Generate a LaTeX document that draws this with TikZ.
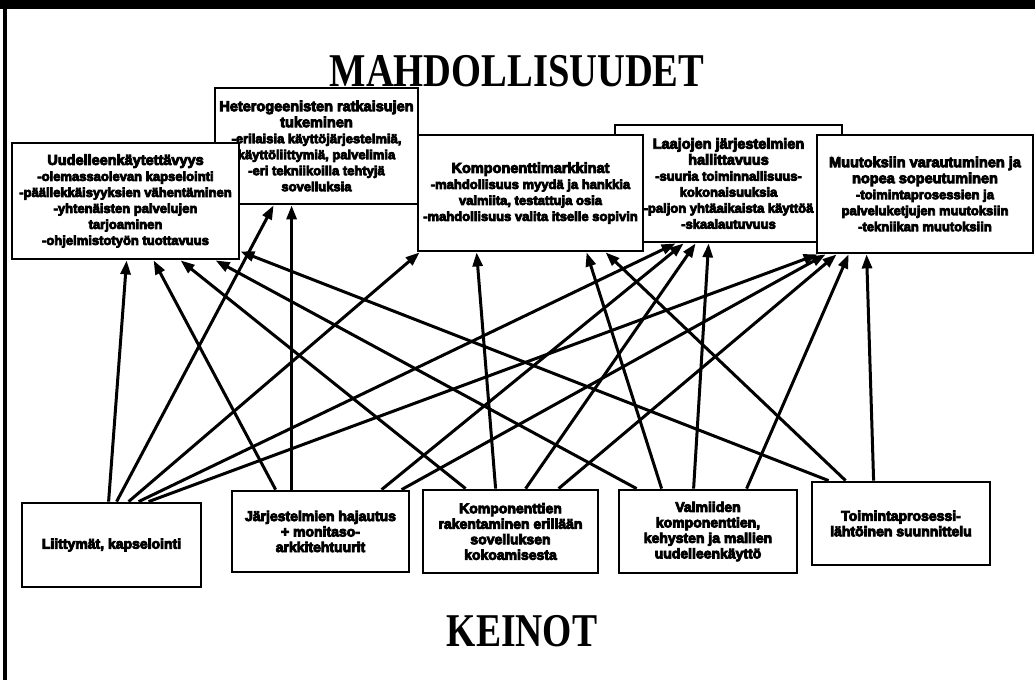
\documentclass[tikz,border=0pt]{standalone}
\usepackage{fontspec}
\usepackage{graphicx}
\usetikzlibrary{arrows.meta}
\setmainfont{Liberation Sans}
\newfontfamily\heavy[FakeBold=6]{Liberation Sans Bold}
\newfontfamily\titlefont{Liberation Serif}
\newcommand\hd[1]{{\fontsize{14.5}{16.5}\selectfont #1}}

\tikzset{
  upbox/.style={draw, line width=2.8pt, fill=white, align=center, inner sep=0pt,
    font=\heavy\fontsize{13}{16}\selectfont},
  lowbox/.style={draw, line width=2.8pt, fill=white, align=center, inner sep=0pt,
    font=\heavy\fontsize{14}{15.5}\selectfont},
  link/.style={line width=3pt, -{Triangle[length=14pt,width=10pt]}},
  heading/.style={font=\titlefont\bfseries\fontsize{47}{47}\selectfont, anchor=base, inner sep=0pt}
}

\begin{document}
\begin{tikzpicture}[x=1pt,y=-1pt]
\useasboundingbox (0,0) rectangle (1035,680);

% frame
\fill (0,0) rectangle (1035,9);
\draw[line width=4pt] (5,0) -- (5,680);

% titles
\node[heading] (title) at (517,86) {\scalebox{0.82}[1]{MAHDOLLISUUDET}};
\node[heading] (means) at (522,646) {\scalebox{0.8}[1]{KEINOT}};

% upper boxes: possibilities
\node[upbox, minimum width=203pt, minimum height=116pt] (B2) at (316.5,146)
  {\hd{Heterogeenisten ratkaisujen}\\\hd{tukeminen}\\-erilaisia käyttöjärjestelmiä,\\käyttöliittymiä, palvelimia\\-eri tekniikoilla tehtyjä\\sovelluksia};
\node[upbox, minimum width=227pt, minimum height=116pt] (B1) at (125.5,201)
  {\hd{Uudelleenkäytettävyys}\\-olemassaolevan kapselointi\\-päällekkäisyyksien vähentäminen\\-yhtenäisten palvelujen\\tarjoaminen\\-ohjelmistotyön tuottavuus};
\node[upbox, minimum width=227pt, minimum height=117pt] (B4) at (728.5,183.5)
  {\hd{Laajojen järjestelmien}\\\hd{hallittavuus}\\-suuria toiminnallisuus-\\kokonaisuuksia\\-paljon yhtäaikaista käyttöä\\-skaalautuvuus};
\node[upbox, minimum width=225pt, minimum height=116pt] (B3) at (530.5,193)
  {\hd{Komponenttimarkkinat}\\-mahdollisuus myydä ja hankkia\\valmiita, testattuja osia\\-mahdollisuus valita itselle sopivin};
\node[upbox, minimum width=216pt, minimum height=118pt] (B5) at (925,194)
  {\hd{Muutoksiin varautuminen ja}\\\hd{nopea sopeutuminen}\\-toimintaprosessien ja\\palveluketjujen muutoksiin\\-tekniikan muutoksiin};

% lower boxes: means
\node[lowbox, minimum width=179pt, minimum height=84pt] (L1) at (111.5,545)
  {Liittymät, kapselointi};
\node[lowbox, minimum width=177pt, minimum height=81pt] (L2) at (320.5,531.5)
  {Järjestelmien hajautus\\+ monitaso-\\arkkitehtuurit};
\node[lowbox, minimum width=175pt, minimum height=83pt] (L3) at (510.5,531.5)
  {Komponenttien\\rakentaminen erillään\\sovelluksen\\kokoamisesta};
\node[lowbox, minimum width=178pt, minimum height=83pt] (L4) at (708,531.5)
  {Valmiiden\\komponenttien,\\kehysten ja mallien\\uudelleenkäyttö};
\node[lowbox, minimum width=178pt, minimum height=83pt] (L5) at (901,523.5)
  {Toimintaprosessi-\\lähtöinen suunnittelu};

% connectors from means to possibilities
\draw[link] ([xshift=88pt]L1.north west)  -- ([xshift=116pt]B1.south west);
\draw[link] ([xshift=96pt]L1.north west)  -- ([xshift=60pt]B2.south west);
\draw[link] ([xshift=108pt]L1.north west) -- ([xshift=3pt]B3.south west);
\draw[link] ([xshift=118pt]L1.north west) -- ([xshift=62pt]B4.south west);
\draw[link] ([xshift=128pt]L1.north west) -- ([xshift=2pt]B5.south west);

\draw[link] ([xshift=45pt]L2.north west)  -- ([xshift=143pt]B1.south west);
\draw[link] ([xshift=61pt]L2.north west)  -- ([xshift=78pt]B2.south west);
\draw[link] ([xshift=151pt]L2.north west) -- ([xshift=70pt]B4.south west);
\draw[link] ([xshift=171pt]L2.north west) -- ([xshift=10pt]B5.south west);

\draw[link] ([xshift=44pt]L3.north west)  -- ([xshift=170pt]B1.south west);
\draw[link] ([xshift=74pt]L3.north west)  -- ([xshift=60pt]B3.south west);
\draw[link] ([xshift=104pt]L3.north west) -- ([xshift=82pt]B4.south west);
\draw[link] ([xshift=137pt]L3.north west) -- ([xshift=21pt]B5.south west);

\draw[link] ([xshift=19pt]L4.north west)  -- ([xshift=205pt]B1.south west);
\draw[link] ([xshift=44pt]L4.north west)  -- ([xshift=170pt]B3.south west);
\draw[link] ([xshift=76pt]L4.north west)  -- ([xshift=95pt]B4.south west);
\draw[link] ([xshift=129pt]L4.north west) -- ([xshift=33pt]B5.south west);

\draw[link] ([xshift=18pt]L5.north west)  -- ([yshift=9pt]B1.south east);
\draw[link] ([xshift=35pt]L5.north west)  -- ([xshift=189pt]B3.south west);
\draw[link] ([xshift=63pt]L5.north west)  -- ([xshift=51pt]B5.south west);
\end{tikzpicture}
\end{document}
